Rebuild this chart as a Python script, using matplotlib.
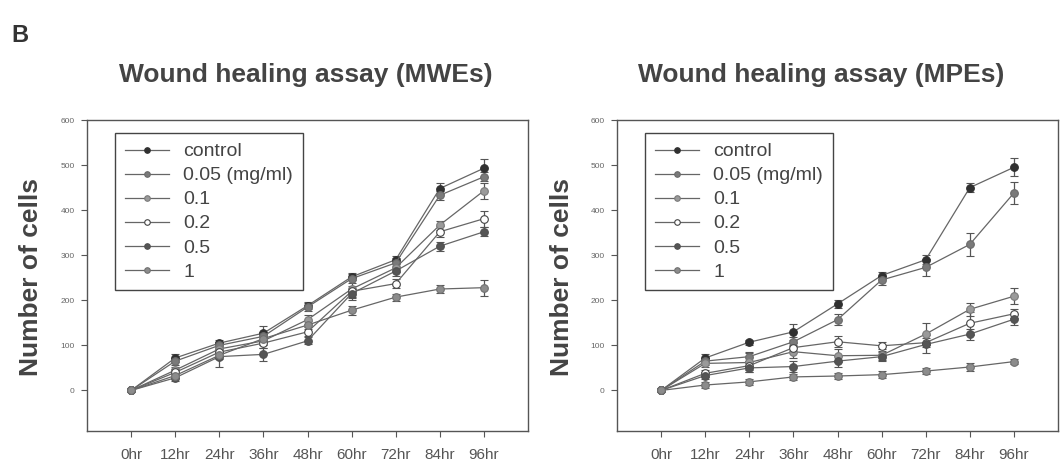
import numpy as np
import matplotlib
matplotlib.use("Agg")
import matplotlib.pyplot as plt
from matplotlib.lines import Line2D

plt.rcParams['font.family'] = ['Liberation Sans', 'DejaVu Sans']

hours = ["0hr", "12hr", "24hr", "36hr", "48hr", "60hr", "72hr", "84hr", "96hr"]
doses = ["control", "0.05 (mg/ml)", "0.1", "0.2", "0.5", "1"]

# MWEs (left panel)
mwe_control = [0, 72, 105, 127, 188, 252, 290, 448, 493]
mwe_005 = [0, 65, 100, 120, 185, 248, 283, 433, 474]
mwe_01 = [0, 45, 92, 110, 157, 225, 272, 367, 443]
mwe_02 = [0, 40, 85, 105, 130, 220, 237, 352, 381]
mwe_05 = [0, 28, 75, 80, 110, 215, 265, 320, 352]
mwe_1 = [0, 33, 78, 115, 145, 178, 207, 225, 228]

mwe_control_err = [0, 8, 6, 15, 8, 8, 8, 12, 20]
mwe_005_err = [0, 8, 8, 10, 8, 10, 10, 10, 10]
mwe_01_err = [0, 8, 10, 10, 10, 25, 10, 10, 18]
mwe_02_err = [0, 8, 10, 10, 10, 12, 10, 12, 18]
mwe_05_err = [0, 6, 22, 15, 8, 10, 10, 10, 10]
mwe_1_err = [0, 6, 8, 8, 8, 10, 8, 8, 18]

# MPEs (right panel)
mpe_control = [0, 72, 107, 130, 192, 255, 290, 450, 495]
mpe_005 = [0, 65, 75, 108, 157, 245, 273, 324, 438]
mpe_01 = [0, 60, 62, 86, 77, 78, 125, 180, 209]
mpe_02 = [0, 38, 55, 95, 108, 99, 106, 149, 170]
mpe_05 = [0, 33, 50, 53, 65, 75, 102, 125, 158]
mpe_1 = [0, 12, 19, 30, 32, 35, 43, 52, 64]

mpe_control_err = [0, 8, 6, 18, 8, 8, 10, 10, 20]
mpe_005_err = [0, 8, 10, 10, 12, 10, 18, 25, 25]
mpe_01_err = [0, 8, 20, 15, 15, 10, 25, 15, 18]
mpe_02_err = [0, 8, 10, 10, 12, 8, 10, 25, 10]
mpe_05_err = [0, 8, 10, 12, 12, 10, 20, 12, 12]
mpe_1_err = [0, 6, 6, 6, 6, 8, 6, 8, 6]

face_colors = ["#303030", "#7a7a7a", "#9a9a9a", "white", "#555555", "#8c8c8c"]
edge_colors = ["#303030", "#6a6a6a", "#7a7a7a", "#444444", "#505050", "#707070"]
line_col = "#666666"
txt_col = "#444444"

fig = plt.figure(figsize=(10.6, 4.61), dpi=100)
W, H = 1060.0, 461.0


def panel(left, right, title, title_x, ylab_x, series, errs):
    ax = fig.add_axes([left / W, (H - 431) / H, (right - left) / W, 311 / H])
    x = np.arange(len(hours))
    handles = []
    for i in range(len(series)):
        ax.errorbar(x, series[i], yerr=errs[i], color=line_col, lw=0.9,
                    marker='o', ms=5.5, mfc=face_colors[i], mec=edge_colors[i],
                    mew=0.8, ecolor="#555555", elinewidth=0.9, capsize=3,
                    capthick=0.9)
        handles.append(Line2D([], [], color=line_col, lw=0.9, marker='o', ms=4,
                              mfc=face_colors[i], mec=edge_colors[i], mew=0.8,
                              label=doses[i]))
    ax.set_xlim(-1, 9)
    ax.set_ylim(-90, 600)
    ax.set_xticks(x)
    ax.set_xticklabels(hours)
    ax.set_yticks(np.arange(0, 601, 100))
    for s in ax.spines.values():
        s.set_color("#555555")
        s.set_linewidth(1.0)
    ax.tick_params(axis='x', direction='out', length=4, color="#555555",
                   labelsize=11, labelcolor="#555555", pad=8)
    ax.tick_params(axis='y', direction='out', length=4, color="#555555",
                   labelsize=6, labelcolor="#666666", pad=5)
    leg = ax.legend(handles=handles, loc='upper left',
                    bbox_to_anchor=(28 / (right - left), 0.958),
                    borderaxespad=0, fontsize=14, handlelength=2.3,
                    handletextpad=0.7, labelspacing=0.33, borderpad=0.5,
                    fancybox=False, framealpha=1, edgecolor="#444444")
    leg.get_frame().set_linewidth(1.0)
    for t in leg.get_texts():
        t.set_color(txt_col)
    fig.text(title_x / W, 1 - 75 / H, title, ha='center', va='center',
             fontsize=19, fontweight='bold', color=txt_col)
    fig.text(ylab_x / W, 1 - 277 / H, "Number of cells", ha='center',
             va='center', rotation=90, fontsize=19, fontweight='bold',
             color=txt_col)
    return ax


panel(87, 528, "Wound healing assay (MWEs)", 306, 31,
      [mwe_control, mwe_005, mwe_01, mwe_02, mwe_05, mwe_1],
      [mwe_control_err, mwe_005_err, mwe_01_err, mwe_02_err, mwe_05_err, mwe_1_err])
panel(617, 1058, "Wound healing assay (MPEs)", 821, 562,
      [mpe_control, mpe_005, mpe_01, mpe_02, mpe_05, mpe_1],
      [mpe_control_err, mpe_005_err, mpe_01_err, mpe_02_err, mpe_05_err, mpe_1_err])

fig.text(20 / W, 1 - 35 / H, "B", ha='center', va='center', fontsize=17,
         fontweight='bold', color="#333333")

fig.savefig("out.png", dpi=100)
